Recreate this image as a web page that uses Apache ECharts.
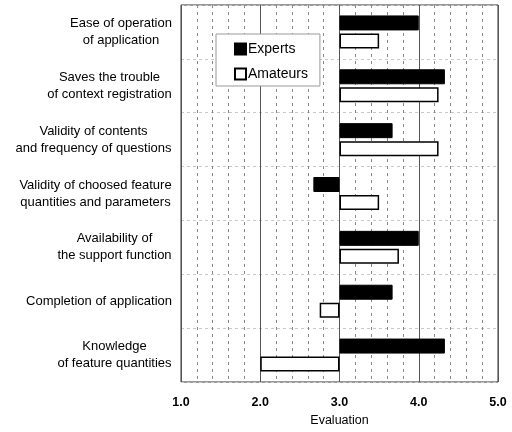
<!DOCTYPE html>
<html>
<head>
<meta charset="utf-8">
<script src="https://cdn.jsdelivr.net/npm/echarts@6/dist/echarts.min.js"></script>
<style>
html,body{margin:0;padding:0;background:#fff;}
#main{width:512px;height:432px;}
</style>
</head>
<body>
<div id="main"></div>
<script>
// data
var categories=[
    'Ease of operation\nof application',
    'Saves the trouble\nof context registration',
    'Validity of contents\nand frequency of questions',
    'Validity of choosed feature\nquantities and parameters',
    'Availability of\nthe support function',
    'Completion of application',
    'Knowledge\nof feature quantities'
];
var experts=[4.0,4.33,3.67,2.67,4.0,3.67,4.33];
var amateurs=[3.5,4.25,4.25,3.5,3.75,2.75,2.0];
var base=3.0;   // bars grow from 3.0

var labelFont='13px Liberation Sans, Arial, sans-serif';

var myChart=echarts.init(document.getElementById('main'));

var toOffset=function (arr) {
    return arr.map(function (v) { return +(v-base).toFixed(3); });
};

// each label: lines centred in their own block, block right-aligned to the axis
var ctx=document.createElement('canvas').getContext('2d');
ctx.font=labelFont;
var rich={};
categories.forEach(function (c,i) {
    var w=0;
    c.split('\n').forEach(function (line) {
        w=Math.max(w,Math.ceil(ctx.measureText(line).width));
    });
    rich['c'+i]={width:w,align:'center',fontSize:13,lineHeight:17,color:'#000'};
});

var options={
    animation:false,
    textStyle:{fontFamily:'Liberation Sans, Arial, sans-serif'},
    legend:{
        orient:'vertical',
        left:216,
        top:34,
        width:102,
        padding:[8,12,5,18],
        itemGap:11,
        itemWidth:11,
        itemHeight:11,
        icon:'rect',
        backgroundColor:'#fff',
        borderColor:'#999',
        borderWidth:1,
        textStyle:{fontSize:14,color:'#000',padding:[0,0,0,-3]},
        data:['Experts','Amateurs']
    },
    grid:{left:181,right:14,top:5,bottom:47,show:true,borderColor:'#333',borderWidth:1},
    xAxis:{
        type:'value',
        min:-2,
        max:2,
        interval:1,
        name:'Evaluation',
        nameLocation:'middle',
        nameGap:32,
        nameTextStyle:{fontSize:12.5,color:'#000'},
        axisLine:{show:false},
        axisTick:{show:false},
        axisLabel:{
            color:'#000',fontSize:12.5,fontWeight:'bold',margin:14,
            formatter:function (v) { return (v+base).toFixed(1); }
        },
        splitLine:{show:true,lineStyle:{color:'#555',width:1}},
        minorTick:{show:false,splitNumber:5},
        minorSplitLine:{show:true,lineStyle:{color:'#888',type:[3,4],width:1}}
    },
    yAxis:{
        type:'category',
        inverse:true,
        data:categories,
        axisLine:{show:false},
        axisTick:{show:false},
        axisLabel:{
            color:'#000',fontSize:13,lineHeight:17,margin:9,align:'right',
            formatter:function (v,i) {
                return v.split('\n').map(function (line) {
                    return '{c'+i+'|'+line+'}';
                }).join('\n');
            },
            rich:rich
        },
        splitLine:{show:true,lineStyle:{color:'#c8c8c8',type:[3,3],width:1}}
    },
    series:[
        {
            name:'Experts',
            type:'bar',
            barWidth:15,
            barGap:'20%',
            itemStyle:{color:'#000',borderColor:'#000',borderWidth:1},
            data:toOffset(experts)
        },
        {
            name:'Amateurs',
            type:'bar',
            barWidth:15,
            barGap:'20%',
            itemStyle:{color:'#fff',borderColor:'#000',borderWidth:1.5},
            data:toOffset(amateurs)
        }
    ]
};

myChart.setOption(options);
</script>
</body>
</html>
